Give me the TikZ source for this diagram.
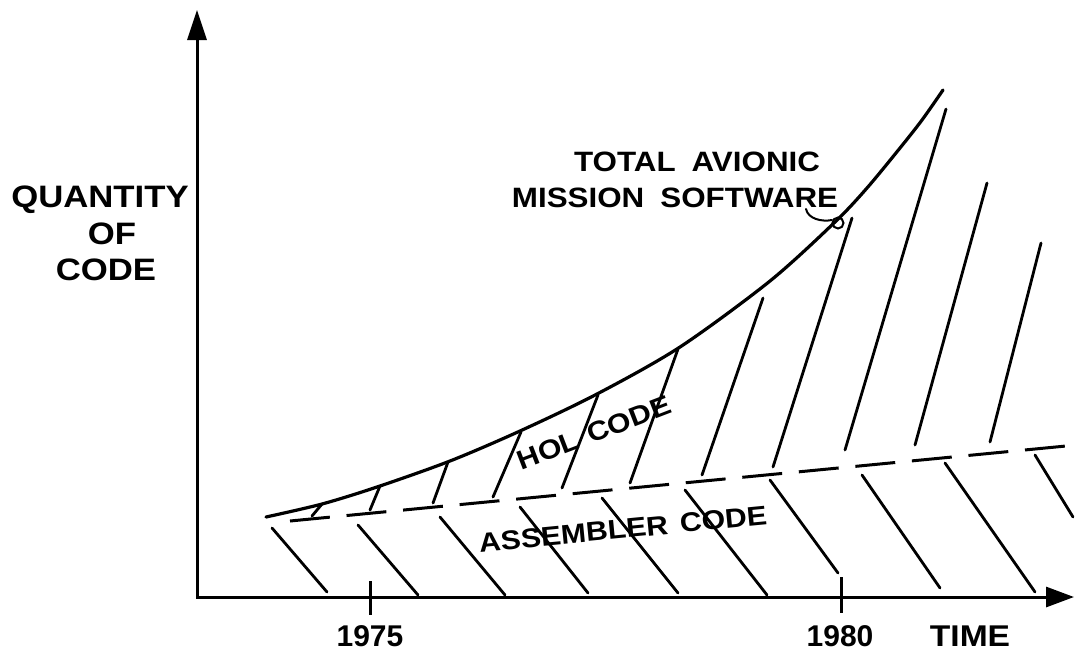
\documentclass[tikz,border=0pt]{standalone}
\usepackage{fontspec}
\setmainfont{Liberation Sans}
\newfontfamily\labfont[FakeStretch=1.12]{Liberation Sans}
\usetikzlibrary{arrows.meta}
\begin{document}
\begin{tikzpicture}[x=1pt,y=-1pt,
  ink/.style={line width=3pt},
  hatchline/.style={line width=2.8pt, line cap=round},
  lbl/.style={font=\labfont\bfseries\fontsize{#1}{#1}\selectfont, inner sep=0pt},
  numlbl/.style={font=\bfseries\fontsize{30}{30}\selectfont, inner sep=0pt}]
\useasboundingbox (0,0) rectangle (1075,651);
\fill[white] (0,0) rectangle (1075,651);
% axes
\coordinate (ytip) at (197,10);
\coordinate (O) at (197,597);
\coordinate (xtip) at (1074,597);
\draw[ink, line join=miter, {Triangle[length=30pt,width=19pt]}-{Triangle[length=28pt,width=20pt]}] (ytip) -- (O) -- (xtip);
% ticks
\coordinate (t75a) at (370,581); \coordinate (t75b) at (370,615);
\coordinate (t80a) at (841,577); \coordinate (t80b) at (841,613);
\draw[ink] (t75a) -- (t75b);
\draw[ink] (t80a) -- (t80b);
% total curve
\draw[line width=3.2pt, line cap=round] plot[smooth, tension=0.5] coordinates {(266,517) (322,504) (377,487) (450,461) (520,431) (597,394) (680,347) (770,281) (835,222) (867,188) (900,148) (922,120) (943,90)};
% assembler / HOL boundary
\coordinate (d1) at (290,521);
\coordinate (d2) at (1066,446);
\draw[line width=3pt, dash pattern=on 40pt off 16.8pt] (d1) -- (d2);
% HOL hatching
\foreach \a/\b in {{(312,516)}/{(322,504)}, {(370,510)}/{(380,486)}, {(433,503)}/{(448,462)}, {(493,497)}/{(521,432)}, {(562,488)}/{(598,395)}, {(630,483)}/{(678,349)}, {(702,475)}/{(763,298)}, {(773,467)}/{(852,218)}, {(845,450)}/{(946,109)}, {(915,445)}/{(987,183)}, {(990,442)}/{(1041,243)}}
  \draw[hatchline] \a -- \b;
% assembler hatching
\foreach \a/\b in {{(272,528)}/{(327,592)}, {(358,525)}/{(418,595)}, {(440,517)}/{(505,595)}, {(520,507)}/{(588,593)}, {(602,498)}/{(678,593)}, {(685,490)}/{(767,595)}, {(770,480)}/{(838,573)}, {(862,475)}/{(940,588)}, {(945,463)}/{(1035,592)}, {(1035,455)}/{(1073,517)}}
  \draw[hatchline] \a -- \b;
% labels
\node[lbl=31] (q1) at (100,200) {QUANTITY};
\node[lbl=31] (q2) at (112,234) {OF};
\node[lbl=31] (q3) at (106,270) {CODE};
\node[lbl=28] (t1) at (697,162) {TOTAL\hspace{16pt}AVIONIC};
\node[lbl=28] (t2) at (675,198) {MISSION\hspace{16pt}SOFTWARE};
\node[lbl=27, rotate=21] (hol) at (594,433) {HOL\hspace{11pt}CODE};
\node[lbl=27, rotate=5.5] (asm) at (623,529) {ASSEMBLER\hspace{12pt}CODE};
\node[numlbl] (y75) at (370,636) {1975};
\node[numlbl] (y80) at (840,636) {1980};
\node[lbl=30] (time) at (970,636) {TIME};
% leader to curve
\coordinate (lead) at (806,209);
\coordinate (ring) at (838,223);
\draw[line width=2pt, line cap=round] (lead) .. controls (808,219) and (822,222) .. (832,220);
\draw[line width=2pt] (ring) circle[radius=5.5pt];
\end{tikzpicture}
\end{document}
